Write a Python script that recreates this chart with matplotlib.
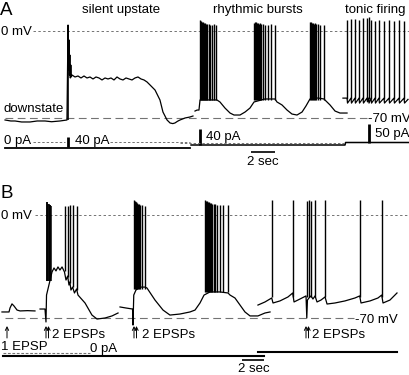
import matplotlib
matplotlib.use("Agg")
import matplotlib.pyplot as plt

plt.rcParams['font.family'] = ['Liberation Sans', 'DejaVu Sans']

# ---------------- figure geometry (pixels) ----------------
W, H = 410, 375
A_PX_PER_S, A_ZERO_PX, A_MV_PER_PX = 12.0, 31.0, 70 / 87
B_PX_PER_S, B_ZERO_PX, B_MV_PER_PX = 11.0, 215.0, 70 / 103
A_I_ZERO_PX, B_I_ZERO_PX, PA_PER_PX = 148.0, 356.0, 4.0

# ---------------- Panel A: voltage (time s, mV) ----------------
# silent upstate sweep
silent_t = [0.42, 0.9, 1.25, 1.8, 2.5, 3.1, 3.75, 4.3, 5.0, 5.58,
            5.67, 5.72, 5.75, 5.78, 5.82, 5.86, 5.9, 5.94,
            6.0, 6.25, 6.5, 6.75, 7.0, 7.25, 7.5, 7.75, 8.0, 8.25, 8.5, 8.75,
            9.0, 9.25, 9.5, 9.75, 10.0, 10.25, 10.5, 10.75, 11.0, 11.25, 11.5,
            11.75, 12.0, 12.25, 12.5, 12.92, 13.33, 13.58, 13.92, 14.17, 14.4,
            14.58, 14.8, 15.0, 15.42, 15.83, 16.08]
silent_v = [-71.6, -72.4, -72.4, -73.2, -73.2, -72.4, -72.4, -73.0, -72.4, -71.6,
            4.8, -31.4, -7.2, -35.4, -19.3, -37.8, -27.4, -37.0,
            -35.4, -37.0, -36.2, -37.8, -36.2, -37.8, -37.0, -38.6, -37.0, -37.8,
            -39.4, -37.8, -38.6, -37.8, -39.4, -37.0, -38.6, -39.4, -37.8, -38.6,
            -39.4, -37.8, -37.0, -38.6, -39.4, -41.0, -43.4, -47.5, -55.5, -65.2,
            -71.6, -74.0, -74.5, -74.0, -72.6, -71.6, -70.0, -69.2, -68.4]

# rhythmic bursts sweep (slow wave)
rhythm_t = [16.25, 16.42, 16.58, 16.67, 17.33, 18.08, 18.33, 18.75, 19.17, 19.5,
            20.0, 20.42, 20.83, 21.17, 22.08, 22.92, 23.08, 23.5, 23.92, 24.33,
            24.75, 25.17, 25.5, 25.83, 26.5, 27.0, 27.08, 27.5, 27.92, 28.33, 28.92]
rhythm_v = [-64.4, -63.6, -63.6, -55.5, -55.5, -55.5, -57.1, -62.0, -66.0, -67.6,
            -67.6, -65.2, -62.0, -57.1, -54.7, -54.7, -57.1, -59.5, -63.6, -66.8,
            -67.6, -65.2, -60.3, -54.7, -53.9, -54.7, -55.5, -59.5, -64.4, -66.0, -66.0]
burst1_t = [16.67, 16.75, 16.83, 16.92, 17.0, 17.08, 17.17, 17.25, 17.38, 17.5, 17.67, 17.83, 18.0]
burst1_pk = [8.9, 8.1, 7.2, 7.2, 6.4, 6.4, 5.6, 5.6, 5.6, 4.8, 4.8, 5.6, 4.8]
burst2_t = [21.17, 21.25, 21.33, 21.42, 21.5, 21.58, 21.67, 21.79, 21.92, 22.08, 22.33, 22.58, 22.92]
burst2_pk = [6.4, 7.2, 7.2, 6.4, 6.4, 5.6, 6.4, 5.6, 5.6, 4.8, 4.8, 5.6, 4.8]
burst3_t = [25.83, 25.92, 26.0, 26.08, 26.17, 26.25, 26.33, 26.5, 26.67, 27.0]
burst3_pk = [7.2, 7.2, 6.4, 6.4, 5.6, 6.4, 5.6, 5.6, 4.8, 4.8]
burst_base_A = -55.5

# tonic firing sweep
tonic_spk = [28.92, 29.25, 29.58, 29.92, 30.25, 30.58, 30.71, 30.92, 31.25,
             31.58, 32.0, 32.42, 32.83, 33.25, 33.67]
tonic_pk = [8.9, 9.7, 9.7, 8.9, 10.5, 10.5, 11.3, 8.9, 8.1, 8.9, 8.1, 8.9, 8.1, 8.9, 8.1]
tonic_t = [28.58, 28.92, 28.96, 29.25, 29.29, 29.58, 29.62, 29.92, 29.96, 30.25,
           30.29, 30.58, 30.62, 30.71, 30.75, 30.92, 30.96, 31.25, 31.29, 31.58,
           31.62, 32.0, 32.04, 32.42, 32.46, 32.83, 32.87, 33.25, 33.29, 33.67,
           33.71, 34.0]
tonic_v = [-54.0, -54.0, -58.0, -54.0, -58.0, -54.0, -58.0, -54.0, -58.0, -54.0,
           -58.0, -54.0, -57.0, -54.0, -58.0, -54.0, -58.0, -54.0, -58.0, -54.0,
           -58.0, -54.0, -58.0, -54.0, -58.0, -54.0, -58.0, -54.0, -58.0, -54.0,
           -58.0, -55.0]

# ---------------- Panel A: injected current (time s, pA) ----------------
curA1_t, curA1_i = [0.42, 15.83], [0, 0]
curA2_t, curA2_i = [15.92, 28.75, 28.8, 34.17], [12, 12, 22, 22]
pulseA_t = [5.67, 16.67, 30.75]
pulseA_lo = [4, 12, 22]
pulseA_hi = [44, 76, 96]

# ---------------- Panel B: voltage (time s, mV) ----------------
b1_t = [0.18, 0.82, 0.91, 1.09, 1.27, 1.55, 1.82, 2.5, 3.18]
b1_v = [-65.9, -65.9, -63.2, -60.4, -61.8, -64.6, -65.2, -65.0, -65.2]

b2_t = [3.64, 4.09, 4.18, 4.23, 4.73, 4.91, 5.09, 5.27, 5.45, 5.64, 5.86,
        6.0, 6.15, 6.27, 6.35, 6.45, 6.6, 6.77, 6.96, 7.09, 7.73, 8.36, 8.82,
        9.55, 10.18, 10.73]
b2_v = [-63.9, -63.9, -72.7, -54.4, -38.7, -36.0, -38.0, -35.3, -37.4, -35.3, -38.7,
        -44.2, -41.5, -47.6, -45.5, -51.0, -49.0, -53.0, -50.3, -54.4, -59.8, -68.0,
        -70.7, -70.0, -68.6, -66.6]
b2_burst_t = [4.23, 4.29, 4.36, 4.44, 4.51, 4.59, 4.68]
b2_burst_pk = [8.8, 8.8, 7.5, 7.5, 6.8, 6.8, 6.1]
b2_late_t = [5.91, 6.18, 6.36, 6.64, 7.0]
b2_late_pk = [6.1, 6.1, 6.8, 6.8, 6.1]

b3_t = [10.91, 11.45, 12.05, 12.09, 12.16, 12.36, 12.73, 13.18, 13.36, 14.09,
        14.82, 15.45, 16.36, 17.27, 17.73, 18.18, 18.55, 19.09, 20.0, 20.73,
        20.91, 21.36, 21.82, 22.27, 22.73, 23.45, 24.09, 24.55]
b3_v = [-62.5, -63.2, -63.9, -74.8, -54.4, -51.0, -49.0, -49.0, -49.6, -57.8,
        -64.6, -68.0, -67.3, -65.9, -64.6, -59.8, -54.4, -52.3, -52.3, -53.0,
        -54.4, -56.4, -61.2, -65.9, -68.6, -68.6, -66.6, -65.9]
b3_burstA_t = [12.18, 12.25, 12.33, 12.4, 12.48, 12.56, 12.65, 12.77, 12.91, 13.14]
b3_burstA_pk = [10.2, 9.5, 8.8, 8.8, 8.2, 7.5, 7.5, 6.8, 6.8, 6.1]
b3_burstB_t = [18.64, 18.73, 18.82, 18.91, 19.0, 19.09, 19.18, 19.27, 19.41,
               19.55, 19.73, 20.0, 20.27, 20.73]
b3_burstB_pk = [10.2, 9.5, 9.5, 8.8, 8.8, 8.2, 8.2, 7.5, 7.5, 7.5, 6.8, 6.8, 6.8, 6.8]

b4_t = [23.45, 24.09, 24.7, 24.82, 25.45, 26.18, 26.61, 26.73, 27.27, 27.82,
        27.89, 27.95, 28.09, 28.27, 28.45, 28.64, 28.82, 29.18, 29.55, 29.73,
        30.45, 31.36, 32.27, 32.7, 32.82, 33.64, 34.36, 34.7, 34.82, 35.45, 36.09]
b4_v = [-61.2, -59.1, -56.4, -59.8, -58.4, -55.7, -53.0, -59.1, -57.1, -55.0,
        -70.0, -57.8, -56.4, -55.0, -57.1, -55.0, -59.1, -57.8, -55.7, -60.5,
        -59.8, -58.4, -56.4, -55.0, -59.8, -58.4, -56.4, -54.4, -59.8, -57.8, -53.0]
b4_spk_t = [24.73, 26.64, 27.95, 28.05, 28.27, 28.64, 29.55, 32.73, 34.73]
b4_spk_pk = [10.2, 10.2, 9.5, 10.2, 9.5, 10.2, 10.2, 10.2, 10.2]

# ---------------- Panel B: injected current (time s, pA) ----------------
curB1_t, curB1_i = [0.27, 10.73], [0, 0]
curB2a_t, curB2a_i = [10.91, 24.0], [0, 0]
curB2b_t, curB2b_i = [23.45, 36.09], [16, 16]

# ---------------- drawing ----------------
fig = plt.figure(figsize=(W / 100, H / 100), dpi=100)

ov = fig.add_axes([0, 0, 1, 1])
ov.set_xlim(0, W)
ov.set_ylim(H, 0)
ov.axis('off')


def data_axes(px_per_s, zero_px, units_per_px):
    ax = fig.add_axes([0, 0, 1, 1], facecolor='none')
    ax.set_xlim(0, W / px_per_s)
    ax.set_ylim((zero_px - H) * units_per_px, zero_px * units_per_px)
    ax.axis('off')
    return ax


axA = data_axes(A_PX_PER_S, A_ZERO_PX, A_MV_PER_PX)
axAi = data_axes(A_PX_PER_S, A_I_ZERO_PX, PA_PER_PX)
axB = data_axes(B_PX_PER_S, B_ZERO_PX, B_MV_PER_PX)
axBi = data_axes(B_PX_PER_S, B_I_ZERO_PX, PA_PER_PX)

K = 'black'
LW = 0.9
GRID = '0.45'

# reference lines (0 mV dotted, -70 mV dashed)
axA.axhline(0, xmin=33 / W, xmax=1, color=GRID, lw=0.7, ls=(0, (2.5, 2.5)))
axA.axhline(-70, xmin=5 / W, xmax=367 / W, color=GRID, lw=0.8, ls=(0, (7, 4)))
axB.axhline(0, xmin=35 / W, xmax=1, color=GRID, lw=0.7, ls=(0, (2.5, 2.5)))
axB.axhline(-70, xmin=5 / W, xmax=354 / W, color=GRID, lw=0.8, ls=(0, (7, 4)))

# Panel A voltage traces
axA.plot(silent_t, silent_v, color=K, lw=LW)
axA.vlines([silent_t[10]], -71.6, silent_v[10], color=K, lw=1.2)
axA.plot(rhythm_t, rhythm_v, color=K, lw=LW)
for ts, pk in [(burst1_t, burst1_pk), (burst2_t, burst2_pk), (burst3_t, burst3_pk)]:
    axA.vlines(ts, burst_base_A, pk, color=K, lw=1.0)
axA.plot(tonic_t, tonic_v, color=K, lw=LW)
axA.vlines(tonic_spk, -55, tonic_pk, color=K, lw=1.0)

# Panel A current traces
axAi.plot(curA1_t, curA1_i, color=K, lw=1.3)
axAi.plot(curA2_t, curA2_i, color=K, lw=1.1)
axAi.vlines(pulseA_t, pulseA_lo, pulseA_hi, color=K, lw=2.0)
axAi.hlines([24, 24, 20], [2.75, 9.17, 15.0], [5.42, 15.83, 28.75],
            color=GRID, lw=0.7, linestyles=[(0, (2.5, 2.0))])

# Panel B voltage traces
axB.plot(b1_t, b1_v, color=K, lw=LW)
axB.plot(b2_t, b2_v, color=K, lw=LW)
axB.vlines(b2_burst_t, -45, b2_burst_pk, color=K, lw=1.1)
axB.vlines(b2_late_t, [-38, -42, -46, -49, -51], b2_late_pk, color=K, lw=1.0)
axB.plot(b3_t, b3_v, color=K, lw=LW)
axB.vlines(b3_burstA_t, -50, b3_burstA_pk, color=K, lw=1.0)
axB.vlines(b3_burstB_t, -52, b3_burstB_pk, color=K, lw=1.0)
axB.plot(b4_t, b4_v, color=K, lw=LW)
axB.vlines(b4_spk_t, -56, b4_spk_pk, color=K, lw=1.0)

# Panel B current traces
axBi.plot(curB1_t, curB1_i, color=K, lw=1.5)
axBi.plot(curB2a_t, curB2a_i, color=K, lw=1.5)
axBi.plot(curB2b_t, curB2b_i, color=K, lw=1.5)
axBi.hlines(12, 0.27, 8.18, color=GRID, lw=0.8, linestyles=[(0, (2.5, 1.5))])

# scale bars
axA.hlines((31 - 152) * A_MV_PER_PX, 251 / A_PX_PER_S, 275 / A_PX_PER_S, color=K, lw=1.2)
axB.hlines((215 - 360) * B_MV_PER_PX, 242 / B_PX_PER_S, 264 / B_PX_PER_S, color=K, lw=1.2)

# ---------------- text ----------------
FS = 9.5
def txt(x, y, s, size=FS, ha='left'):
    ov.text(x, y, s, fontsize=size, ha=ha, va='baseline', color='black')

txt(0, 15, 'A', size=13.5)
txt(0, 198, 'B', size=13.5)
txt(121, 13, 'silent upstate', ha='center')
txt(258, 13, 'rhythmic bursts', ha='center')
txt(375, 13, 'tonic firing', ha='center')
txt(1, 35, '0 mV')
txt(4, 112, 'downstate')
txt(368, 122, '-70 mV')
txt(4, 144, '0 pA')
txt(75, 144, '40 pA')
txt(206, 140, '40 pA')
txt(375, 137, '50 pA')
txt(263, 165, '2 sec', ha='center')
txt(1, 219, '0 mV')
txt(355, 323, '-70 mV')
txt(1, 350, '1 EPSP')
txt(52, 338, '2 EPSPs')
txt(142, 338, '2 EPSPs')
txt(312, 338, '2 EPSPs')
txt(90, 352, '0 pA')
txt(254, 372, '2 sec', ha='center')

# EPSP arrows
arrow = dict(arrowstyle='->', lw=0.7, color='black', mutation_scale=6,
             shrinkA=0, shrinkB=0)
def up_arrow(x):
    ov.annotate('', xy=(x, 326), xytext=(x, 338), arrowprops=arrow)

up_arrow(7)
for x0 in (46, 134, 306):
    up_arrow(x0)
    up_arrow(x0 + 2.5)

fig.savefig('out.png', dpi=100)
